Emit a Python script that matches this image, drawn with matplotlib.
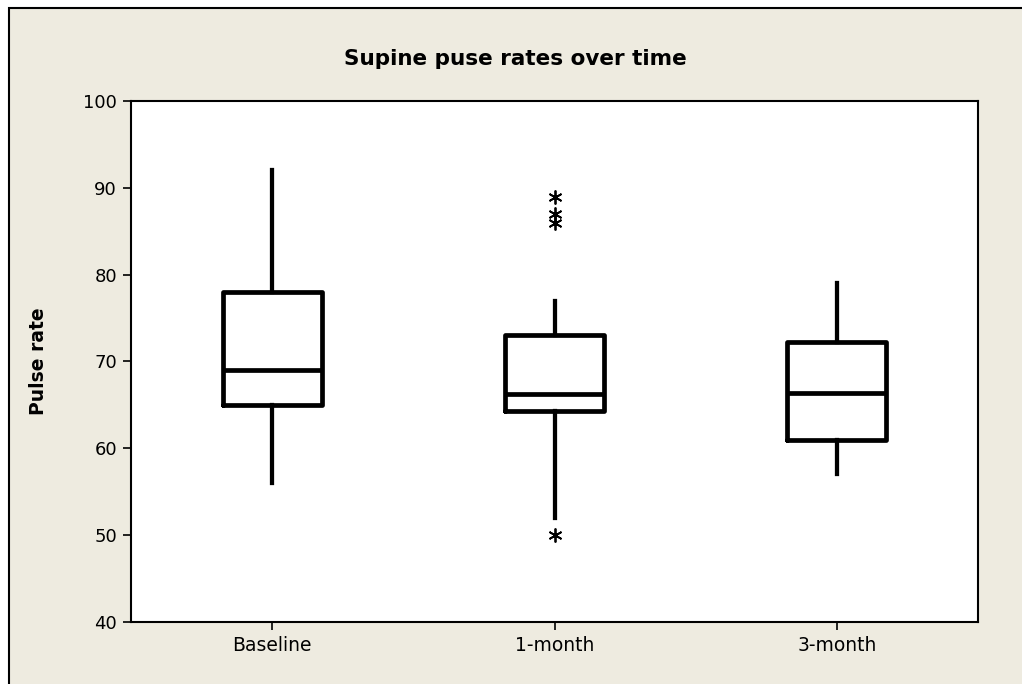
import matplotlib as mpl
mpl.use('Agg')
import matplotlib.pyplot as plt
from matplotlib.patches import Rectangle

# five-number summaries per visit, plus outlying readings
groups = ['Baseline', '1-month', '3-month']
whisker_low = [56, 52, 57]
q1 = [65, 64.3, 61]
median = [69, 66.3, 66.4]
q3 = [78, 73, 72.3]
whisker_high = [92, 77, 79]
outliers = [[], [89, 87, 86, 50], []]

bg = '#eeebe0'

fig = plt.figure(figsize=(10.22, 6.84), dpi=100, facecolor='white')
# beige panel with a thin frame on the left and top
fig.patches.append(Rectangle((9 / 1022., -0.1), 1.2, 1 - 8 / 684. + 0.1,
                             transform=fig.transFigure, facecolor=bg,
                             edgecolor='black', lw=1.5, zorder=-5))

ax = fig.add_axes([131 / 1022., 1 - 622 / 684., 847 / 1022., 521 / 684.])
ax.set_zorder(2)
ax.set_facecolor('white')

stats = []
for i, name in enumerate(groups):
    stats.append(dict(label=name, whislo=whisker_low[i], q1=q1[i],
                      med=median[i], q3=q3[i], whishi=whisker_high[i],
                      fliers=outliers[i]))

lw = 3.4
ax.bxp(stats, positions=[1, 2, 3], widths=0.35, showcaps=False,
       boxprops=dict(color='black', lw=lw, solid_joinstyle='round',
                     solid_capstyle='round'),
       whiskerprops=dict(color='black', lw=lw * 0.9),
       medianprops=dict(color='black', lw=lw),
       flierprops=dict(marker=(6, 2, 0), markersize=10, markeredgewidth=1.3,
                       markeredgecolor='black', markerfacecolor='black'))

ax.set_xlim(0.5, 3.5)
ax.set_ylim(40, 100)
ax.set_yticks([40, 50, 60, 70, 80, 90, 100])
ax.set_xticks([1, 2, 3])
ax.set_xticklabels(groups)
ax.tick_params(axis='both', direction='out', length=6, width=1.2,
               labelsize=13.5, pad=4)
ax.tick_params(axis='y', labelsize=13)
for s in ax.spines.values():
    s.set_linewidth(1.5)

ax.set_ylabel('Pulse rate', fontsize=13.5, fontweight='bold')
ax.yaxis.set_label_coords(-0.098, 0.5)

fig.text(515 / 1022., 1 - 59 / 684., 'Supine puse rates over time',
         ha='center', va='center', fontsize=15.5, fontweight='bold')

plt.savefig('out.png', dpi=100, facecolor=fig.get_facecolor())
